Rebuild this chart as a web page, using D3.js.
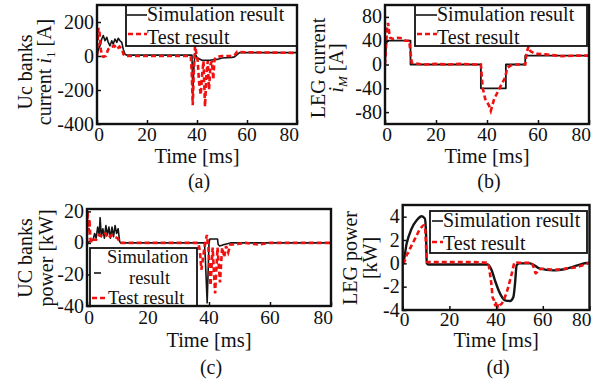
<!DOCTYPE html>
<html><head><meta charset="utf-8">
<script src="https://cdn.jsdelivr.net/npm/d3@7"></script>
<style>
body{margin:0;background:#fff}
svg{display:block}
text{font-family:"Liberation Serif","Times New Roman",serif;fill:#111}
</style>
</head><body>
<svg id="chart" width="603" height="383"></svg>
<script>
// ---------- data ----------
const xTicks = [0, 20, 40, 60, 80];
const aYTicks = [-400, -200, 0, 200];
const bYTicks = [-80, -40, 0, 40, 80];
const cYTicks = [-40, -20, 0, 20];
const dYTicks = [-4, -2, 0, 2, 4];
const legendLabels = ["Simulation result", "Test result"];
const captions = ["(a)", "(b)", "(c)", "(d)"];
const xLabel = "Time [ms]";

// (a) UC banks current
const aSimT = [0,0.6,1.2,1.9,2.5,3.2,3.9,4.5,5.2,5.9,6.5,7.2,7.9,8.5,9.2,9.9,10.5,11.2,12,20,30,38,38.3,38.7,39.2,40,42,45,48,50,54,55,57,65,80];
const aSimV = [0,41,60,100,120,90,110,80,60,90,70,100,80,104,90,80,40,10,5,5,5,5,-240,-80,15,-10,-25,-25,-20,-12,-8,-5,20,20,20];
const aTestT = [0,0.3,0.6,1.0,1.5,2.0,2.5,3.5,4.5,5.2,6.0,7.0,8.0,9.0,10.0,10.6,11.2,15,25,37.5,37.9,38.3,38.7,39.2,39.8,40.3,40.8,41.5,42.1,42.6,43.2,43.8,44.3,44.8,45.4,46.0,46.5,47.0,48,50,54,55,56,60,70,80];
const aTestV = [0,100,165,140,40,0,-5,0,40,50,55,60,40,55,40,10,0,0,0,0,-100,-290,-100,60,10,-30,-150,-228,-100,-30,-298,-100,-30,-198,-50,-30,-138,-20,-5,0,0,5,25,22,20,18];

// (b) LEG current
const bSimT = [0,0.5,1,10,10,37.6,37.6,47.4,47.4,55,55,80];
const bSimV = [0,35,40,40,0,0,-40,-40,0,0,15,15];
const bTestT = [0,0.4,0.8,1.2,1.6,2,3,5,7,8,9.5,10,10.5,12,15,20,25,30,35,37.6,38.3,39.3,40.8,41.5,42.8,44.1,45.4,47.1,48,50,55,55.5,56.3,57.1,59,63,69.4,76,80];
const bTestV = [0,30,60,70,55,45,43,45,44,40,40,20,3,2,0,1,0,1,0,0,-39,-58,-69,-78,-58,-47,-36,-22,-5,0,0,20,30,22,18,17,14,15,15];

// (c) UC banks power
const cSimT = [0,1,2,2.5,3,3.5,4,4.3,4.7,5.2,5.7,6.2,6.7,7.2,7.7,8.2,8.7,9.2,9.7,10.2,10.7,11,20,30,38.5,38.8,39.4,40,40.3,42.8,43,43.5,45,47,50,60,70,80];
const cSimV = [0,1,2,6,3,10,5,16,4,9,3,11,5,10,3,10,4,11,6,9,1,0,0,0,0,-10,-38,0,2.5,2.5,-1,-2,-1,0,0,0,0,0];
const cTestT = [0,0.2,0.5,0.8,1.1,1.5,2,3,4,5,6,7,8,9,10,11,15,25,36.5,37,37.5,38,38.5,39.3,39.8,40.5,41.2,42,42.8,43.6,44.3,45,45.6,46.3,47,48,52,56,60,70,80];
const cTestV = [0,20,8,15,3,0,2,2,5,4,6,3,5,4,3,0,0,0,0,-5,-17,-10,-3,5,-3,-27,-3,-32,-3,-25,-3,-9,-2,-6,-1,-1,0,-1,0,0,0];

// (d) LEG power
const dSimT = [0,0.3,1.7,3.8,6,8.1,9.5,10,10.3,11,20,30,36.5,38.1,39.5,41.7,43.8,46,47.4,48.1,48.8,50,54.5,58.8,64.5,70.2,78.8,80];
const dSimV = [0,0.11,1.69,2.97,3.69,4.03,3.83,2.5,0,-0.1,-0.1,-0.1,-0.1,-0.6,-1.46,-2.6,-3.17,-3.23,-2.89,-1.74,-0.17,0,0,-0.46,-0.6,-0.46,0.03,0.05];
const dTestT = [0,0.5,1.2,1.7,2.3,3,3.8,5,6,7,8.1,9.1,9.6,10,10.5,11,20,30,36.5,37.3,38.1,38.5,39.1,39.6,40.2,41,41.6,42.4,43.8,45.2,46.7,48.1,50,55,56,57,58.5,60,65,70,75,80];
const dTestV = [0,0.05,0.4,0.7,0.9,1.2,1.54,2.0,2.4,2.8,3.11,3.26,3.0,1.5,0.1,0.1,0.1,0.1,0.05,-0.8,-2.0,-2.9,-3.17,-3.6,-3.3,-3.89,-3.6,-3.46,-2.89,-2.03,-0.89,0.11,0.05,0.05,-0.3,-0.86,-0.5,-0.46,-0.55,-0.45,-0.3,0.05];

// ---------- layout ----------
const panels = [
  {id:"a", xr:[97,297], yr:[124,5], yDom:[-400,300], yTicks:aYTicks,
   sim:[aSimT,aSimV], test:[aTestT,aTestV], simW:1.6, smooth:false,
   ylab:[{x:32, parts:[["Uc banks"]]}, {x:51, parts:[["current "],["i","italic"],["1","sub"],[" [A]"]]}], ylabY:72,
   tickY:141, timeY:163, capY:188, caption:0, legFont:20,
   legend:{x:126,y:5,w:171,h:41, items:[
     {k:"sim", l:[127,147,15], t:[[147,21,legendLabels[0]]]},
     {k:"test", l:[128,147,34], t:[[147,44,legendLabels[1]]]}]}},
  {id:"b", xr:[385,589], yr:[124,5], yDom:[-100,100], yTicks:bYTicks,
   sim:[bSimT,bSimV], test:[bTestT,bTestV], simW:1.8, smooth:false,
   ylab:[{x:325, parts:[["LEG current"]]}, {x:343, parts:[["i","italic"],["M","subi"],[" [A]"]]}], ylabY:68,
   tickY:141, timeY:163, capY:188, caption:1, legFont:20,
   legend:{x:415,y:5,w:172,h:41, items:[
     {k:"sim", l:[416,437,15], t:[[437,21,legendLabels[0]]]},
     {k:"test", l:[417,437,34], t:[[437,44,legendLabels[1]]]}]}},
  {id:"c", xr:[87,331], yr:[306,209], yDom:[-40,21.5], yTicks:cYTicks,
   sim:[cSimT,cSimV], test:[cTestT,cTestV], simW:1.6, smooth:false,
   ylab:[{x:32, parts:[["UC banks"]]}, {x:53, parts:[["power [kW]"]]}], ylabY:258,
   tickY:324, timeY:347, capY:374, caption:2, legFont:18.5,
   legend:{x:90,y:248,w:107,h:58, items:[
     {k:"sim", l:[94,101,273], t:[[107,263,"Simulation"],[129,283.5,"result"]]},
     {k:"test", l:[92,106,298], t:[[108,304,legendLabels[1]]]}]}},
  {id:"d", xr:[402.7,589.5], yr:[310,205], yDom:[-4,5], yTicks:dYTicks,
   sim:[dSimT,dSimV], test:[dTestT,dTestV], simW:2.4, smooth:true,
   ylab:[{x:357, parts:[["LEG power"]]}, {x:377, parts:[["[kW]"]]}], ylabY:258,
   tickY:326, timeY:347, capY:374, caption:3, legFont:20,
   legend:{x:430,y:211,w:157,h:42, items:[
     {k:"sim", l:[432,443,221], t:[[443,227,legendLabels[0]]]},
     {k:"test", l:[432,443,242], t:[[443,250,legendLabels[1]]]}]}}
];

const svg = d3.select("#chart");
const RED = "#f01010";
const BLACK = "#151515";

panels.forEach((p) => {
  const x = d3.scaleLinear().domain([0, 80]).range(p.xr);
  const y = d3.scaleLinear().domain(p.yDom).range(p.yr);
  const g = svg.append("g");
  const clipId = "clip" + p.id;
  svg.append("clipPath").attr("id", clipId).append("rect")
    .attr("x", p.xr[0]).attr("y", p.yr[1]).attr("width", p.xr[1]-p.xr[0]).attr("height", p.yr[0]-p.yr[1]);

  const mk = (T, V) => T.map((t, i) => [t, V[i]]);
  const line = d3.line().x(d => x(d[0])).y(d => y(d[1]))
    .curve(p.smooth ? d3.curveMonotoneX : d3.curveLinear);

  const data = g.append("g").attr("clip-path", `url(#${clipId})`);
  data.append("path").datum(mk(p.sim[0], p.sim[1])).attr("d", line)
    .attr("fill", "none").attr("stroke", BLACK).attr("stroke-width", p.simW).attr("stroke-linejoin","round");
  data.append("path").datum(mk(p.test[0], p.test[1])).attr("d", line)
    .attr("fill", "none").attr("stroke", RED).attr("stroke-width", 2.6).attr("stroke-dasharray", "5,3");

  // ticks (inward)
  const xAx = d3.axisBottom(x).tickValues(xTicks).tickSize(-4).tickFormat("");
  g.append("g").attr("transform", `translate(0,${p.yr[0]})`).call(xAx)
    .call(s => s.select(".domain").remove())
    .selectAll("line").attr("stroke", "#111").attr("stroke-width", 1.5);
  const yAx = d3.axisLeft(y).tickValues(p.yTicks).tickSize(-4).tickFormat("");
  g.append("g").attr("transform", `translate(${p.xr[0]},0)`).call(yAx)
    .call(s => s.select(".domain").remove())
    .selectAll("line").attr("stroke", "#111").attr("stroke-width", 1.5);

  // tick labels
  xTicks.forEach((t, i) => {
    let anchor = "middle", dx = 0;
    if (i === 0) dx = 2;
    if (i === xTicks.length - 1) { anchor = "end"; dx = 2; }
    g.append("text").attr("x", x(t) + dx).attr("y", p.tickY)
      .attr("text-anchor", anchor).attr("font-size", 19.5).text(t);
  });
  p.yTicks.forEach(t => {
    g.append("text").attr("x", p.xr[0] - 3).attr("y", y(t) + 6.5)
      .attr("text-anchor", "end").attr("font-size", 20).text(t);
  });

  // legend
  const L = p.legend;
  g.append("rect").attr("x", L.x).attr("y", L.y).attr("width", L.w).attr("height", L.h)
    .attr("fill", "#fff").attr("stroke", "#111").attr("stroke-width", 1.8);
  L.items.forEach(it => {
    g.append("line").attr("x1", it.l[0]).attr("x2", it.l[1]).attr("y1", it.l[2]).attr("y2", it.l[2])
      .attr("stroke", it.k === "sim" ? BLACK : RED)
      .attr("stroke-width", it.k === "sim" ? 1.6 : 2.6)
      .attr("stroke-dasharray", it.k === "sim" ? null : "5,3");
    it.t.forEach(tt => {
      g.append("text").attr("x", tt[0]).attr("y", tt[1]).attr("font-size", p.legFont).text(tt[2]);
    });
  });

  // box
  g.append("rect").attr("x", p.xr[0]).attr("y", p.yr[1])
    .attr("width", p.xr[1]-p.xr[0]).attr("height", p.yr[0]-p.yr[1])
    .attr("fill", "none").attr("stroke", "#111").attr("stroke-width", 2.4);

  // y label (two lines, rotated)
  p.ylab.forEach(ln => {
    const t = g.append("text").attr("transform", `translate(${ln.x},${p.ylabY}) rotate(-90)`)
      .attr("text-anchor", "middle").attr("font-size", 20);
    ln.parts.forEach((pt, k) => {
      const s = t.append("tspan").text(pt[0]);
      const prev = ln.parts[k - 1];
      if (pt[1] === "italic") s.attr("font-style", "italic");
      if (pt[1] === "sub") s.attr("font-size", 13).attr("dy", 4);
      if (pt[1] === "subi") s.attr("font-size", 13).attr("dy", 4).attr("font-style", "italic");
      if (pt[1] === undefined && prev && (prev[1] === "sub" || prev[1] === "subi")) s.attr("dy", -4);
    });
  });

  // x label & caption
  const cx = (p.xr[0] + p.xr[1]) / 2;
  g.append("text").attr("x", cx).attr("y", p.timeY).attr("text-anchor", "middle")
    .attr("font-size", 20.5).text(xLabel);
  g.append("text").attr("x", cx + 2).attr("y", p.capY).attr("text-anchor", "middle")
    .attr("font-size", 20).text(captions[p.caption]);
});
</script>
</body></html>
